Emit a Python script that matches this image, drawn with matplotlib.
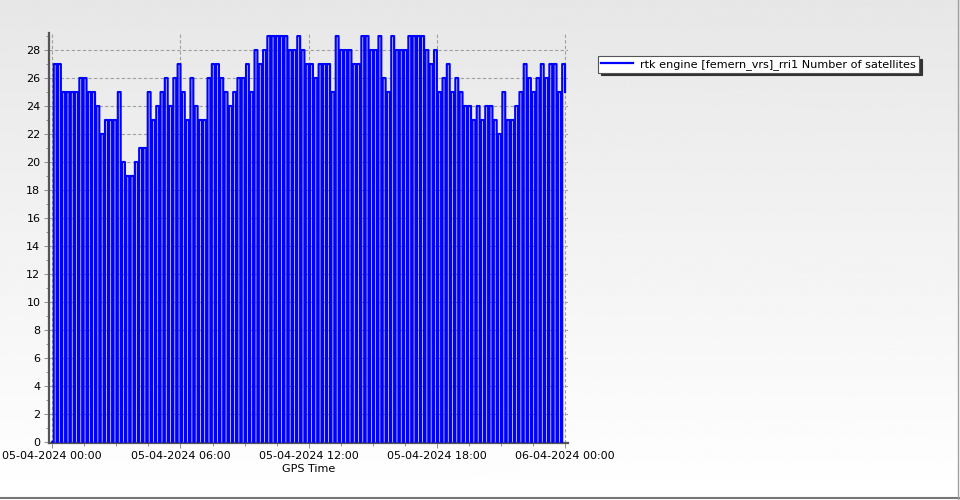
import numpy as np
import pandas as pd
import matplotlib
matplotlib.use("Agg")
import matplotlib.pyplot as plt
import matplotlib.dates as mdates
from matplotlib.lines import Line2D

plt.rcParams["path.simplify"] = False

# satellites in view, one value per 12-minute block (dropout to 0 at the start of each block)
start = pd.Timestamp("2024-04-05 00:00")
block_minutes = 12
dropout_minutes = 4
sats = [
    27, 27, 25, 25, 25,   # 00h
    25, 26, 26, 25, 25,   # 01h
    24, 22, 23, 23, 23,   # 02h
    25, 20, 19, 19, 20,   # 03h
    21, 21, 25, 23, 24,   # 04h
    25, 26, 24, 26, 27,   # 05h
    25, 23, 26, 24, 23,   # 06h
    23, 26, 27, 27, 26,   # 07h
    25, 24, 25, 26, 26,   # 08h
    27, 25, 28, 27, 28,   # 09h
    29, 29, 29, 29, 29,   # 10h
    28, 28, 29, 28, 27,   # 11h
    27, 26, 27, 27, 27,   # 12h
    25, 29, 28, 28, 28,   # 13h
    27, 27, 29, 29, 28,   # 14h
    28, 29, 26, 25, 29,   # 15h
    28, 28, 28, 29, 29,   # 16h
    29, 29, 28, 27, 28,   # 17h
    25, 26, 27, 25, 26,   # 18h
    25, 24, 24, 23, 24,   # 19h
    23, 24, 24, 23, 22,   # 20h
    25, 23, 23, 24, 25,   # 21h
    27, 26, 25, 26, 27,   # 22h
    26, 27, 27, 25, 27,   # 23h
]
last_value = 25
series_label = "rtk engine [femern_vrs]_rri1 Number of satellites"

times = []
values = []
for k, s in enumerate(sats):
    t0 = start + pd.Timedelta(minutes=k * block_minutes)
    times += [t0, t0 + pd.Timedelta(minutes=dropout_minutes)]
    values += [0, s]
times.append(start + pd.Timedelta(hours=24))
values.append(last_value)

fig = plt.figure(figsize=(9.6, 5), dpi=100)

# grey-to-white background
bg = fig.add_axes([0, 0, 1, 1], zorder=-10)
grad = np.linspace(0.905, 1.0, 256).reshape(-1, 1)
bg.imshow(grad, aspect="auto", cmap="gray", vmin=0, vmax=1, extent=[0, 1, 0, 1])
bg.set_axis_off()

ax = fig.add_axes([0.0507, 0.115, 0.541, 0.8196])
ax.patch.set_alpha(0)
ax.plot(times, values, drawstyle="steps-post", color="#0000ff", lw=1.55,
        snap=False, label=series_label, zorder=3)

ax.set_xlim(start - pd.Timedelta(hours=0.17), start + pd.Timedelta(hours=24.14))
ax.set_ylim(-0.05, 29.24)

ax.xaxis.set_major_locator(mdates.HourLocator(byhour=[0, 6, 12, 18]))
ax.xaxis.set_major_formatter(mdates.DateFormatter("%d-%m-%Y %H:%M"))
ax.set_xticks(pd.date_range(start, periods=17, freq="90min"), minor=True)
ax.set_yticks(range(0, 29, 2))
ax.set_yticks(range(0, 30), minor=True)

ax.grid(True, which="major", color="#a0a0a0", linestyle=(0, (3, 2)), lw=0.8)
for s in ["top", "right"]:
    ax.spines[s].set_visible(False)
for s in ["left", "bottom"]:
    ax.spines[s].set_color("#555555")
    ax.spines[s].set_linewidth(1.6)

ax.tick_params(which="major", length=3.5, width=0.7, color="#909090",
               labelsize=8, pad=2.5, labelcolor="black")
ax.tick_params(which="minor", length=2, width=0.7, color="#909090")
ax.set_xlabel("GPS Time", fontsize=8, labelpad=2)

leg = fig.legend(loc="upper left", bbox_to_anchor=(598 / 960, 1 - 56 / 500),
                 borderaxespad=0, fontsize=8.1, frameon=True, fancybox=False,
                 edgecolor="#555555", framealpha=1, borderpad=0.25,
                 handlelength=2.9, handletextpad=0.6,
                 shadow={"color": "#333333", "alpha": 1})
leg.get_frame().set_linewidth(0.8)
for h in leg.get_lines():
    h.set_linewidth(1.6)

# outer frame
fig.add_artist(Line2D([0, 1], [0.005, 0.005], color="#777777", lw=1.5))
fig.add_artist(Line2D([0.998, 0.998], [0, 1], color="#a0a0a0", lw=1))

fig.savefig("out.png", dpi=100)
